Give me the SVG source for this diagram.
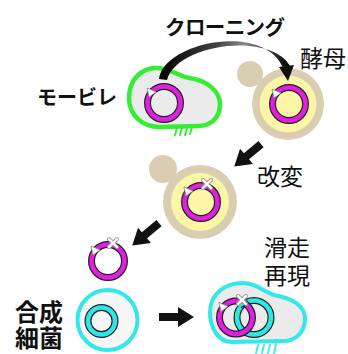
<svg xmlns="http://www.w3.org/2000/svg" xmlns:xlink="http://www.w3.org/1999/xlink" width="348" height="354" viewBox="0 0 348 354">
  <style>
    .lbl { font-family: "Noto Sans CJK JP", "Noto Sans", sans-serif; fill: #111; }
    .bold { font-weight: 700; }
    .tan { fill: #d9cdb2; }
    .yolk { fill: #fcf6a6; }
    .ink { fill: none; stroke: #222; stroke-width: 7; }
    .mag { fill: none; stroke: #e020e0; stroke-width: 4.6; }
    .cyn { fill: none; stroke: #2ee6e6; stroke-width: 4.6; }
    .leg-g { stroke: #33ee33; stroke-width: 2; stroke-linecap: round; fill: none; }
    .leg-c { stroke: #44eeee; stroke-width: 2; stroke-linecap: round; fill: none; }
    .blk { fill: #111; }
  </style>
  <defs>
    <linearGradient id="arcGrad" x1="0" y1="0" x2="1" y2="0">
      <stop offset="0" stop-color="#000"/>
      <stop offset="0.45" stop-color="#444"/>
      <stop offset="0.65" stop-color="#888"/>
      <stop offset="1" stop-color="#000"/>
    </linearGradient>
    <!-- magenta plasmid ring with its small white arrowhead -->
    <g id="plasmid">
      <circle r="16.5" class="ink"/>
      <circle r="16.5" class="mag"/>
      <polygon points="-17,-15 -15,-6 -8,-11" fill="#fff" stroke="#888" stroke-width="0.8"/>
    </g>
    <!-- cut mark -->
    <g id="cut">
      <path d="M-4,-4 L4,4 M-4,4 L4,-4" stroke="#999" stroke-width="4" stroke-linecap="round"/>
      <path d="M-4,-4 L4,4 M-4,4 L4,-4" stroke="#fff" stroke-width="2.2" stroke-linecap="round"/>
    </g>
    <!-- block arrow pointing right, centred on the origin -->
    <path id="blockArrow" d="M-17,-4 L2,-4 L2,-10 L18,0 L2,10 L2,4 L-17,4 Z"/>
  </defs>

  <rect width="348" height="354" fill="#fff"/>

  <!-- labels -->
  <g id="labels">
    <text class="lbl bold" x="165" y="35" font-size="20.5" textLength="120">クローニング</text>
    <text class="lbl" x="300" y="67" font-size="23">酵母</text>
    <text class="lbl bold" x="37" y="105" font-size="20">モービレ</text>
    <text class="lbl" x="257" y="185" font-size="23">改変</text>
    <text class="lbl" x="264" y="256" font-size="23">滑走</text>
    <text class="lbl" x="264" y="284" font-size="23">再現</text>
    <text class="lbl bold" x="15" y="321" font-size="24">合成</text>
    <text class="lbl bold" x="15" y="347" font-size="24">細菌</text>
  </g>

  <!-- mobile bacterium -->
  <g id="mobile">
    <path d="M177,128 L175,135 M182,128 L180,135 M187,128 L185,135 M192,127 L190,134" class="leg-g"/>
    <path d="M129,98 C129,79 142,68 156,68 C170,68 178,76 189,78 C206,80 221,91 220,106 C219,119 210,126 198,126 L160,127 C142,127 129,115 129,98 Z" fill="#ebebeb" stroke="#33ee33" stroke-width="4.5"/>
    <use xlink:href="#plasmid" x="164" y="103"/>
  </g>

  <!-- yeast receiving the clone -->
  <g id="yeast1">
    <circle cx="250" cy="74" r="13" class="tan"/>
    <circle cx="288" cy="104" r="36" class="tan"/>
    <circle cx="288" cy="104" r="28.5" class="yolk"/>
    <use xlink:href="#plasmid" x="289" y="104"/>
  </g>

  <!-- modified yeast -->
  <g id="yeast2">
    <circle cx="163" cy="169" r="14" class="tan"/>
    <circle cx="200" cy="202" r="37" class="tan"/>
    <circle cx="200" cy="202" r="29" class="yolk"/>
    <use xlink:href="#plasmid" x="201" y="202"/>
    <use xlink:href="#cut" x="207" y="184"/>
  </g>

  <!-- extracted plasmid -->
  <g id="plasmidFree">
    <use xlink:href="#plasmid" x="108" y="261"/>
    <use xlink:href="#cut" x="113" y="243"/>
  </g>

  <!-- synthetic bacterium -->
  <g id="synthetic">
    <circle cx="107.5" cy="320" r="30" fill="#f7f7f7" stroke="#33e8e8" stroke-width="4"/>
    <circle cx="101.5" cy="321" r="13.5" class="ink"/>
    <circle cx="101.5" cy="321" r="13.5" class="cyn"/>
  </g>

  <!-- gliding synthetic bacterium -->
  <g id="gliding">
    <path d="M258,345 L256,353 M264,345 L262,353 M270,345 L268,353 M276,344 L274,353" class="leg-c"/>
    <path d="M210,312 C210,294 225,283 243,283 C257,283 263,292 274,295 C292,298 306,306 305,320 C304,333 295,341 284,341 L232,342 C218,342 210,328 210,312 Z" fill="#ebebeb" stroke="#33e8e8" stroke-width="4"/>
    <circle cx="254" cy="317.5" r="17" class="ink"/>
    <circle cx="254" cy="317.5" r="17" class="cyn"/>
    <use xlink:href="#plasmid" x="236" y="317.5"/>
    <!-- cyan passes over magenta at the top crossing -->
    <path d="M239,305.5 A17,17 0 0 1 245,302.5" class="ink" stroke-width="7"/>
    <path d="M238.5,306 A17,17 0 0 1 246,302" class="cyn"/>
    <use xlink:href="#cut" x="242" y="300"/>
  </g>

  <!-- connectors -->
  <g id="connectors">
    <path d="M159,79 C164,42 264,22 283,68 L290,66 C270,31 176,44 167,80 Z" fill="url(#arcGrad)"/>
    <polygon points="279,67 294,65 288,81" class="blk"/>
    <use xlink:href="#blockArrow" class="blk" transform="translate(248,155) rotate(140)"/>
    <use xlink:href="#blockArrow" class="blk" transform="translate(146,234) rotate(140)"/>
    <use xlink:href="#blockArrow" class="blk" transform="translate(176,317)"/>
  </g>
</svg>
